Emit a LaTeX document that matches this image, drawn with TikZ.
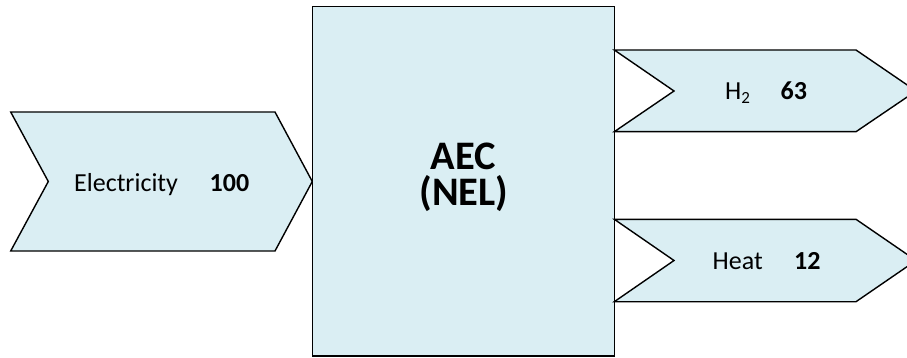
\documentclass[tikz,border=0pt]{standalone}
\usepackage{fontspec}
\setmainfont{Carlito}
\definecolor{flowfill}{HTML}{DAEEF3}
\begin{document}
\begin{tikzpicture}[x=1pt,y=-1pt,
  shapeline/.style={draw=black,line width=1.4pt,fill=flowfill,line join=miter},
  lbl/.style={inner sep=0pt,anchor=base west,font=\fontsize{26}{30}\selectfont},
  num/.style={inner sep=0pt,anchor=base west,font=\fontsize{26}{30}\selectfont\bfseries},
  title/.style={inner sep=0pt,anchor=base,font=\fontsize{40.5}{40}\selectfont\bfseries}]
\useasboundingbox (0,0) rectangle (907,358);
\begin{scope}
\clip (0,0) rectangle (907,358);
% input chevron
\draw[shapeline] (10.7,112) -- (275,112) -- (312.3,181.5) -- (275,251) -- (10.7,251) -- (48.3,181.5) -- cycle;
% main box
\draw[shapeline] (312.3,6.7) rectangle (614.3,356);
% output chevrons
\draw[shapeline] (614.3,50) -- (856,50) -- (916,91) -- (856,131.7) -- (614.3,131.7) -- (674,91) -- cycle;
\draw[shapeline] (614.3,219.3) -- (856,219.3) -- (916,260.5) -- (856,301.7) -- (614.3,301.7) -- (674,260.5) -- cycle;
\end{scope}
% texts
\node[lbl] (elec) at (74,191.7) {Electricity};
\node[num] (elecv) at (209.5,191.7) {100};
\node[title] (aec) at (463.3,169.3) {AEC};
\node[title] (nel) at (463.8,206) {(NEL)};
\node[lbl] (h2) at (725,100) {H\raisebox{-4pt}{\fontsize{17}{17}\selectfont 2}};
\node[num] (h2v) at (780.5,100) {63};
\node[lbl] (heat) at (712.5,269.3) {Heat};
\node[num] (heatv) at (794,269.3) {12};
\end{tikzpicture}
\end{document}
